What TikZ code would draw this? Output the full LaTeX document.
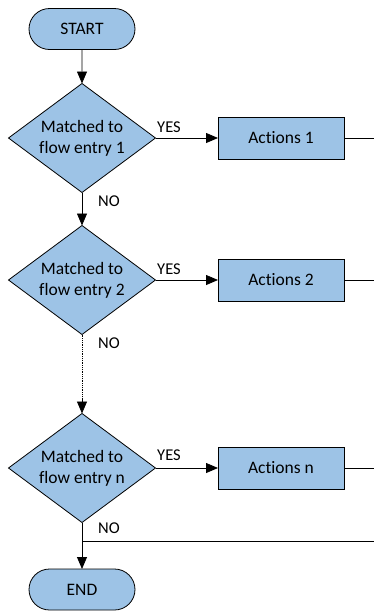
\documentclass[tikz,border=0pt]{standalone}
\usepackage{fontspec}
\setmainfont{Carlito}[Ligatures=NoCommon]
\usetikzlibrary{shapes.geometric,shapes.misc,arrows.meta}
\definecolor{boxblue}{HTML}{9DC3E6}
\begin{document}
\begin{tikzpicture}[x=1pt,y=-1pt,
  font=\fontsize{17.5}{21}\selectfont,
  every node/.style={inner sep=0pt,outer sep=0pt},
  terminal/.style={draw,fill=boxblue,rounded rectangle,minimum width=106pt,minimum height=41pt,line width=0.8pt},
  decision/.style={draw,fill=boxblue,diamond,minimum width=147pt,minimum height=109pt,line width=0.8pt,
    label={[align=center,font=\fontsize{17.5}{21}\selectfont]center:#1}},
  action/.style={draw,fill=boxblue,rectangle,minimum width=126pt,minimum height=42pt,line width=0.8pt},
  flow/.style={line width=0.8pt,-{Triangle[length=12pt,width=10pt]}},
  plain/.style={line width=0.8pt},
  lbl/.style={font=\fontsize{16.5}{18}\selectfont}]
\useasboundingbox (0,0) rectangle (374,611);
% terminals, decisions and action boxes
\node[terminal] (start) at (82,29) {START};
\node[decision={Matched to\\flow entry 1}] (d1) at (82,138) {};
\node[decision={Matched to\\flow entry 2}] (d2) at (82,280) {};
\node[decision={Matched to\\flow entry n}] (d3) at (82,468) {};
\node[action] (a1) at (281,138) {Actions 1};
\node[action] (a2) at (281,280) {Actions 2};
\node[action] (a3) at (281,468) {Actions n};
\node[terminal] (end) at (82,589.5) {END};
% loose ends of the lines leaving the picture
\coordinate (r1) at (374,138);
\coordinate (r2) at (374,280);
\coordinate (r3) at (374,468);
\coordinate (j) at (82,541);
\coordinate (jr) at (374,541);
\coordinate (dots) at (82,400);
% connectors
\draw[flow] (start) -- (d1);
\draw[flow] (d1) -- (d2);
\draw[flow] (d1.east) -- (a1.west);
\draw[flow] (d2.east) -- (a2.west);
\draw[flow] (d3.east) -- (a3.west);
\draw[plain] (a1.east) -- (r1);
\draw[plain] (a2.east) -- (r2);
\draw[plain] (a3.east) -- (r3);
\draw[plain,densely dotted] (d2.south) -- (dots);
\draw[flow] (dots) -- (d3.north);
\draw[flow] (d3.south) -- (end.north);
\draw[plain] (j) -- (jr);
% branch labels
\node[lbl] at (169,127) {YES};
\node[lbl] at (169,269) {YES};
\node[lbl] at (169,455) {YES};
\node[lbl] at (109,201) {NO};
\node[lbl] at (109,343) {NO};
\node[lbl] at (109,528) {NO};
\end{tikzpicture}
\end{document}
